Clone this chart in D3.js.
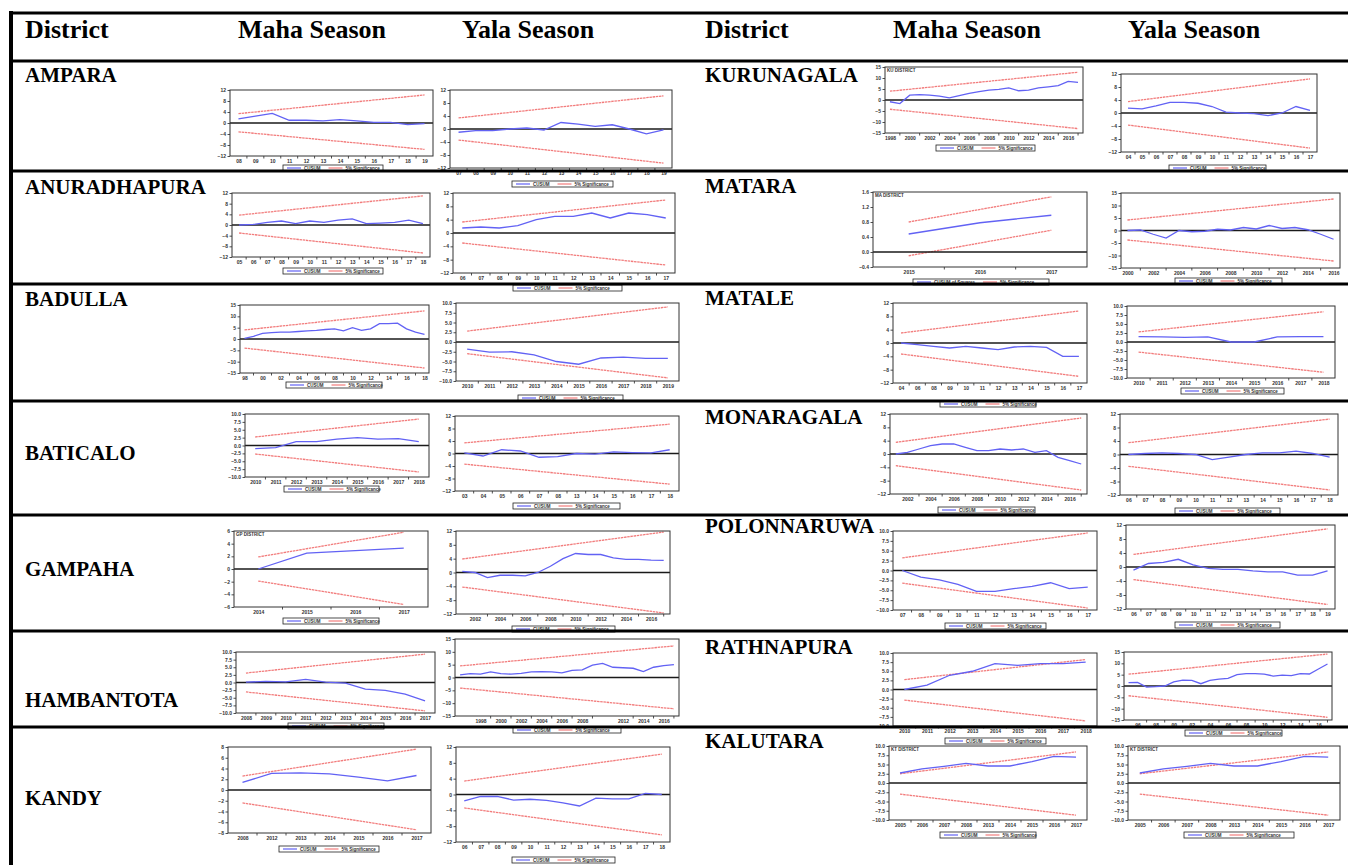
<!DOCTYPE html>
<html>
<head>
<meta charset="utf-8">
<script src="https://cdn.jsdelivr.net/npm/d3@7/dist/d3.min.js"></script>
<style>
  body { margin: 0; background: #fff; }
  .ax text { font-family: Arial, "Liberation Sans", sans-serif; font-size: 5px; font-weight: bold; fill: #333; }
  .ax path { display: none; }
  .ax line { stroke: #222; stroke-width: 0.8; }
  .lg text { font-family: Arial, "Liberation Sans", sans-serif; font-size: 4.5px; font-weight: bold; fill: #333; }
</style>
</head>
<body>
<svg id="chart" width="1348" height="865"></svg>
<script>
// table text
var headers = ["District", "Maha Season", "Yala Season"];
var leftDistricts = ["AMPARA", "ANURADHAPURA", "BADULLA", "BATICALO", "GAMPAHA", "HAMBANTOTA", "KANDY"];
var rightDistricts = ["KURUNAGALA", "MATARA", "MATALE", "MONARAGALA", "POLONNARUWA", "RATHNAPURA", "KALUTARA"];

// y tick sets used by the EViews graphs
var ticks12 = [-12, -8, -4, 0, 4, 8, 12];
var ticks15 = [-15, -10, -5, 0, 5, 10, 15];
var ticks10 = [-10, -7.5, -5, -2.5, 0, 2.5, 5, 7.5, 10];
var ticks8 = [-8, -6, -4, -2, 0, 2, 4, 6, 8];
var ticks6 = [-6, -4, -2, 0, 2, 4, 6];
var ticksSq = [-0.4, 0, 0.4, 0.8, 1.2, 1.6];

// significance arrays: [upper start, upper end, lower start, lower end]
var amparaMahaYears = ["08", "09", "10", "11", "12", "13", "14", "15", "16", "17", "18", "19"];
var amparaMahaCusum = [1.5, 2.5, 3.5, 1, 1, 0.8, 1.2, 0.8, 0.2, 0.2, -0.6, -0.2];
var amparaMahaSig = [3.4, 10.2, -3.2, -9.6];

var amparaYalaYears = ["07", "08", "09", "10", "11", "12", "13", "14", "15", "16", "17", "18", "19"];
var amparaYalaCusum = [-1, -0.5, -0.5, 0, 0.3, -0.3, 2, 1.5, 0.8, 1.3, 0, -1.5, -0.3];
var amparaYalaSig = [3.4, 10.2, -3.4, -10.5];

var kurunagalaMahaYears = ["1998", "1999", "2000", "2001", "2002", "2003", "2004", "2005", "2006", "2007", "2008", "2009", "2010", "2011", "2012", "2013", "2014", "2015", "2016", "2017"];
var kurunagalaMahaLabels = ["1998", "2000", "2002", "2004", "2006", "2008", "2010", "2012", "2014", "2016"];
var kurunagalaMahaCusum = [-0.8, -1.6, 2.2, 2.4, 2.2, 1.8, 1.0, 2.0, 3.0, 3.8, 4.5, 4.8, 5.5, 4.2, 4.5, 5.5, 6.0, 6.5, 8.5, 8.0];
var kurunagalaMahaSig = [4, 12.6, -4.2, -13];

var kurunagalaYalaYears = ["04", "05", "06", "07", "08", "09", "10", "11", "12", "13", "14", "15", "16", "17"];
var kurunagalaYalaCusum = [1.5, 1.3, 2.2, 3.3, 3.3, 3, 2, 0.3, 0, -0.2, -0.8, 0, 2, 0.8];
var kurunagalaYalaSig = [3.5, 10.5, -3.7, -10.8];

var anuradhapuraMahaYears = ["05", "06", "07", "08", "09", "10", "11", "12", "13", "14", "15", "16", "17", "18"];
var anuradhapuraMahaCusum = [0, 0.2, 1, 1.5, 0.5, 1.5, 1, 1.8, 2.3, 0.5, 0.7, 1, 1.8, 0.5];
var anuradhapuraMahaSig = [3.7, 10.9, -3, -10.5];

var anuradhapuraYalaYears = ["06", "07", "08", "09", "10", "11", "12", "13", "14", "15", "16", "17"];
var anuradhapuraYalaCusum = [1.5, 1.8, 1.5, 2.2, 4, 5, 5, 6, 4.5, 6, 5.5, 4.5];
var anuradhapuraYalaSig = [3.3, 9.9, -3, -9.6];

var mataraMahaYears = ["2015", "2016", "2017"];
var mataraMahaCusum = [0.48, 0.78, 0.98];
var mataraMahaSig = [0.8, 1.47, -0.1, 0.58];

var mataraYalaYears = ["2000", "2001", "2002", "2003", "2004", "2005", "2006", "2007", "2008", "2009", "2010", "2011", "2012", "2013", "2014", "2015", "2016"];
var mataraYalaLabels = ["2000", "2002", "2004", "2006", "2008", "2010", "2012", "2014", "2016"];
var mataraYalaCusum = [0, 0.2, -1.5, -3, 0, -0.5, -0.3, 0.5, 0.2, 1.2, 0.6, 2, 0.8, 1.2, 0.3, -1.5, -3.5];
var mataraYalaSig = [4.2, 12.6, -3.8, -12.2];

var badullaMahaYears = ["98", "99", "00", "01", "02", "03", "04", "05", "06", "07", "08", "09", "10", "11", "12", "13", "14", "15", "16", "17", "18"];
var badullaMahaLabels = ["98", "00", "02", "04", "06", "08", "10", "12", "14", "16", "18"];
var badullaMahaCusum = [0.3, 1.2, 2.5, 2.8, 3, 3, 3.3, 3.6, 3.8, 4.2, 4.5, 3.6, 5, 3.8, 4.5, 6.8, 6.8, 7, 4.5, 3, 2];
var badullaMahaSig = [4, 12.4, -4, -12.8];

var badullaYalaYears = ["2010", "2011", "2012", "2013", "2014", "2015", "2016", "2017", "2018", "2019"];
var badullaYalaCusum = [-1.8, -2.6, -2.5, -3.3, -5, -5.7, -4.1, -3.9, -4.2, -4.2];
var badullaYalaSig = [2.8, 9, -3, -9.2];

var mataleMahaYears = ["04", "06", "08", "09", "10", "11", "12", "13", "14", "15", "16", "17"];
var mataleMahaCusum = [0, -0.5, -1, -1.5, -1, -1.5, -2, -1.2, -1, -1.3, -4, -4];
var mataleMahaSig = [3, 9.6, -3.3, -10];

var mataleYalaYears = ["2010", "2011", "2012", "2013", "2014", "2015", "2016", "2017", "2018"];
var mataleYalaCusum = [1.5, 1.4, 1.3, 1.4, 0, 0, 1.4, 1.5, 1.5];
var mataleYalaSig = [2.8, 8.4, -2.8, -8.4];

var baticaloMahaYears = ["2010", "2011", "2012", "2013", "2014", "2015", "2016", "2017", "2018"];
var baticaloMahaCusum = [-1, -0.7, 1.2, 1.2, 2, 2.5, 2, 2.2, 1.2];
var baticaloMahaSig = [2.7, 8.4, -2.7, -8.4];

var baticaloYalaYears = ["03", "04", "05", "06", "07", "08", "13", "14", "15", "16", "17", "18"];
var baticaloYalaCusum = [0.2, -0.8, 1.2, 0.8, -1.2, -1, 0, -0.2, 0.5, 0.3, 0.2, 1.2];
var baticaloYalaSig = [3.4, 9.4, -3.4, -9.8];

var monaragalaMahaYears = ["2001", "2002", "2003", "2004", "2005", "2006", "2007", "2008", "2009", "2010", "2011", "2012", "2013", "2014", "2015", "2016", "2017"];
var monaragalaMahaLabels = ["2002", "2004", "2006", "2008", "2010", "2012", "2014", "2016"];
var monaragalaMahaCusum = [0, 0.5, 1.5, 2.5, 3, 3, 2, 1, 1, 1.5, 1.2, 1.5, 0.5, 1, -1, -2, -3];
var monaragalaMahaSig = [3.5, 10.8, -3.5, -10.8];

var monaragalaYalaYears = ["06", "07", "08", "09", "10", "11", "12", "13", "14", "15", "16", "17", "18"];
var monaragalaYalaCusum = [0, 0.3, 0.5, 0.3, 0, -1.5, -0.8, 0, 0.5, 0.5, 1, 0.3, -0.8];
var monaragalaYalaSig = [3.5, 10.5, -3.5, -10.5];

var gampahaMahaYears = ["2014", "2015", "2016", "2017"];
var gampahaMahaCusum = [0, 2.5, 2.9, 3.3];
var gampahaMahaSig = [1.9, 5.8, -1.9, -5.6];

var gampahaYalaYears = ["2001", "2002", "2003", "2004", "2005", "2006", "2007", "2008", "2009", "2010", "2011", "2012", "2013", "2014", "2015", "2016", "2017"];
var gampahaYalaLabels = ["2002", "2004", "2006", "2008", "2010", "2012", "2014", "2016"];
var gampahaYalaCusum = [0.3, 0, -1.5, -0.8, -0.8, -1.0, 0, 1.8, 4, 5.5, 5.2, 5.2, 4.2, 3.8, 3.8, 3.6, 3.5];
var gampahaYalaSig = [3.9, 11.7, -4.2, -11.7];

var polonnaruwaMahaYears = ["07", "08", "09", "10", "11", "12", "13", "14", "15", "16", "17"];
var polonnaruwaMahaCusum = [0, -1.7, -2.4, -3.5, -5.3, -5.3, -4.6, -4, -3.1, -4.6, -4.2];
var polonnaruwaMahaSig = [3.2, 9.5, -3.2, -9.5];

var polonnaruwaYalaYears = ["06", "07", "08", "09", "10", "11", "12", "13", "14", "15", "16", "17", "18", "19"];
var polonnaruwaYalaCusum = [-0.9, 1, 1.3, 2.2, 0.6, -0.4, -0.7, -0.7, -1.1, -1.4, -1.4, -2.3, -2.3, -1.1];
var polonnaruwaYalaSig = [3.6, 10.9, -3.6, -10.7];

var hambantotaMahaYears = ["2008", "2009", "2010", "2011", "2012", "2013", "2014", "2015", "2016", "2017"];
var hambantotaMahaCusum = [0.1, 0.4, 0.2, 1.0, 0.1, -0.2, -2.2, -2.6, -3.8, -6];
var hambantotaMahaSig = [3.1, 9.3, -3.1, -9.3];

var hambantotaYalaYears = ["1996", "1997", "1998", "1999", "2000", "2001", "2002", "2003", "2004", "2005", "2006", "2007", "2008", "2009", "2010", "2011", "2012", "2013", "2014", "2015", "2016", "2017"];
var hambantotaYalaLabels = ["1998", "2000", "2002", "2004", "2006", "2008", "2012", "2014", "2016"];
var hambantotaYalaCusum = [1.0, 1.5, 1.3, 2.2, 1.5, 1.3, 1.6, 2.2, 2.3, 2.2, 1.8, 2.8, 3.0, 4.8, 5.5, 4.0, 3.8, 3.6, 2.3, 4.0, 4.6, 5.0];
var hambantotaYalaSig = [4.5, 12.3, -4.1, -12.2];

var rathnapuraMahaYears = ["2010", "2011", "2012", "2013", "2014", "2015", "2016", "2017", "2018"];
var rathnapuraMahaCusum = [0, 1.2, 3.9, 5, 7.1, 6.6, 7.1, 7.1, 7.5];
var rathnapuraMahaSig = [2.7, 8.2, -2.9, -8.6];

var rathnapuraYalaYears = ["95", "96", "97", "98", "99", "00", "01", "02", "03", "04", "05", "06", "07", "08", "09", "10", "11", "12", "13", "14", "15", "16", "17"];
var rathnapuraYalaLabels = ["96", "98", "00", "02", "04", "06", "08", "10", "12", "14", "16"];
var rathnapuraYalaCusum = [1.5, 1.6, -0.5, -0.3, 0, 1.8, 2.6, 2.5, 1.0, 2.5, 3.0, 3.4, 5.0, 5.5, 5.5, 5.2, 4.4, 4.8, 4.6, 5.5, 5.3, 7.5, 9.7];
var rathnapuraYalaSig = [5.2, 14.1, -4.3, -13.8];

var kandyMahaYears = ["2008", "2012", "2013", "2014", "2015", "2016", "2017"];
var kandyMahaCusum = [1.4, 3.1, 3.2, 3.0, 2.4, 1.7, 2.7];
var kandyMahaSig = [2.6, 7.6, -2.4, -7.4];

var kandyYalaYears = ["06", "07", "08", "09", "10", "11", "12", "13", "14", "15", "16", "17", "18"];
var kandyYalaCusum = [-1.6, -0.5, -0.5, -1.4, -1.2, -1.5, -2.1, -2.9, -0.9, -1.1, -1.1, 0.3, 0];
var kandyYalaSig = [3.4, 10.2, -3.4, -10.2];

var kalutaraMahaYears = ["2005", "2006", "2007", "2008", "2013", "2014", "2015", "2016", "2017"];
var kalutaraMahaCusum = [2.7, 3.8, 4.5, 5.3, 4.6, 4.6, 5.8, 7.2, 7.0];
var kalutaraMahaSig = [2.5, 8.4, -3.0, -8.7];

var kalutaraYalaYears = ["2005", "2006", "2007", "2008", "2013", "2014", "2015", "2016", "2017"];
var kalutaraYalaCusum = [2.7, 3.8, 4.5, 5.3, 4.6, 4.6, 5.8, 7.2, 7.0];
var kalutaraYalaSig = [2.5, 8.4, -3.0, -8.7];

// chart specs built from the arrays above
var charts = [
  {id: "amparaMaha", years: amparaMahaYears, cusum: amparaMahaCusum, sig: amparaMahaSig, ticks: ticks12},
  {id: "amparaYala", years: amparaYalaYears, cusum: amparaYalaCusum, sig: amparaYalaSig, ticks: ticks12},
  {id: "kurunagalaMaha", years: kurunagalaMahaYears, labels: kurunagalaMahaLabels, cusum: kurunagalaMahaCusum, sig: kurunagalaMahaSig, ticks: ticks15, title: "KU DISTRICT"},
  {id: "kurunagalaYala", years: kurunagalaYalaYears, cusum: kurunagalaYalaCusum, sig: kurunagalaYalaSig, ticks: ticks12},
  {id: "anuradhapuraMaha", years: anuradhapuraMahaYears, cusum: anuradhapuraMahaCusum, sig: anuradhapuraMahaSig, ticks: ticks12},
  {id: "anuradhapuraYala", years: anuradhapuraYalaYears, cusum: anuradhapuraYalaCusum, sig: anuradhapuraYalaSig, ticks: ticks12},
  {id: "mataraMaha", years: mataraMahaYears, cusum: mataraMahaCusum, sig: mataraMahaSig, ticks: ticksSq, title: "MA DISTRICT", legend: "CUSUM of Squares"},
  {id: "mataraYala", years: mataraYalaYears, labels: mataraYalaLabels, cusum: mataraYalaCusum, sig: mataraYalaSig, ticks: ticks15},
  {id: "badullaMaha", years: badullaMahaYears, labels: badullaMahaLabels, cusum: badullaMahaCusum, sig: badullaMahaSig, ticks: ticks15},
  {id: "badullaYala", years: badullaYalaYears, cusum: badullaYalaCusum, sig: badullaYalaSig, ticks: ticks10},
  {id: "mataleMaha", years: mataleMahaYears, cusum: mataleMahaCusum, sig: mataleMahaSig, ticks: ticks12},
  {id: "mataleYala", years: mataleYalaYears, cusum: mataleYalaCusum, sig: mataleYalaSig, ticks: ticks10},
  {id: "baticaloMaha", years: baticaloMahaYears, cusum: baticaloMahaCusum, sig: baticaloMahaSig, ticks: ticks10},
  {id: "baticaloYala", years: baticaloYalaYears, cusum: baticaloYalaCusum, sig: baticaloYalaSig, ticks: ticks12},
  {id: "monaragalaMaha", years: monaragalaMahaYears, labels: monaragalaMahaLabels, cusum: monaragalaMahaCusum, sig: monaragalaMahaSig, ticks: ticks12},
  {id: "monaragalaYala", years: monaragalaYalaYears, cusum: monaragalaYalaCusum, sig: monaragalaYalaSig, ticks: ticks12},
  {id: "gampahaMaha", years: gampahaMahaYears, cusum: gampahaMahaCusum, sig: gampahaMahaSig, ticks: ticks6, title: "GP DISTRICT"},
  {id: "gampahaYala", years: gampahaYalaYears, labels: gampahaYalaLabels, cusum: gampahaYalaCusum, sig: gampahaYalaSig, ticks: ticks12},
  {id: "polonnaruwaMaha", years: polonnaruwaMahaYears, cusum: polonnaruwaMahaCusum, sig: polonnaruwaMahaSig, ticks: ticks10},
  {id: "polonnaruwaYala", years: polonnaruwaYalaYears, cusum: polonnaruwaYalaCusum, sig: polonnaruwaYalaSig, ticks: ticks12},
  {id: "hambantotaMaha", years: hambantotaMahaYears, cusum: hambantotaMahaCusum, sig: hambantotaMahaSig, ticks: ticks10},
  {id: "hambantotaYala", years: hambantotaYalaYears, labels: hambantotaYalaLabels, cusum: hambantotaYalaCusum, sig: hambantotaYalaSig, ticks: ticks15},
  {id: "rathnapuraMaha", years: rathnapuraMahaYears, cusum: rathnapuraMahaCusum, sig: rathnapuraMahaSig, ticks: ticks10},
  {id: "rathnapuraYala", years: rathnapuraYalaYears, labels: rathnapuraYalaLabels, cusum: rathnapuraYalaCusum, sig: rathnapuraYalaSig, ticks: ticks15},
  {id: "kandyMaha", years: kandyMahaYears, cusum: kandyMahaCusum, sig: kandyMahaSig, ticks: ticks8},
  {id: "kandyYala", years: kandyYalaYears, cusum: kandyYalaCusum, sig: kandyYalaSig, ticks: ticks12},
  {id: "kalutaraMaha", years: kalutaraMahaYears, cusum: kalutaraMahaCusum, sig: kalutaraMahaSig, ticks: ticks10, title: "KT DISTRICT"},
  {id: "kalutaraYala", years: kalutaraYalaYears, cusum: kalutaraYalaCusum, sig: kalutaraYalaSig, ticks: ticks10, title: "KT DISTRICT"}
];

// where each graph sits on the page: plot box x, y, w, h then legend x, y, w
var layout = {
  amparaMaha:       [230, 90, 203, 66, 283, 165, 100],
  amparaYala:       [450, 90, 222, 78, 512, 181, 101],
  kurunagalaMaha:   [885, 67, 198, 66, 936, 145, 99],
  kurunagalaYala:   [1121, 74, 196, 78, 1169, 165, 97],
  anuradhapuraMaha: [232, 193, 198, 64, 283, 268, 100],
  anuradhapuraYala: [453, 193, 222, 80, 513, 285, 109],
  mataraMaha:       [873, 192, 214, 75, 913, 279, 136],
  mataraYala:       [1121, 193, 219, 75, 1175, 278, 107],
  badullaMaha:      [240, 305, 189, 68, 286, 382, 96],
  badullaYala:      [456, 303, 223, 78, 518, 395, 105],
  mataleMaha:       [893, 303, 194, 80, 940, 401, 96],
  mataleYala:       [1127, 306, 208, 72, 1181, 388, 103],
  baticaloMaha:     [245, 414, 184, 63, 284, 486, 95],
  baticaloYala:     [455, 416, 224, 75, 513, 503, 107],
  monaragalaMaha:   [890, 414, 197, 80, 938, 507, 97],
  monaragalaYala:   [1120, 414, 218, 81, 1175, 508, 105],
  gampahaMaha:      [234, 531, 194, 76, 283, 618, 96],
  gampahaYala:      [456, 531, 214, 83, 512, 626, 103],
  polonnaruwaMaha:  [893, 531, 204, 79, 945, 623, 101],
  polonnaruwaYala:  [1126, 525, 209, 84, 1175, 622, 105],
  hambantotaMaha:   [236, 652, 199, 61, 288, 723, 96],
  hambantotaYala:   [455, 639, 224, 77, 513, 727, 108],
  rathnapuraMaha:   [893, 653, 204, 73, 945, 738, 101],
  rathnapuraYala:   [1124, 652, 208, 68, 1185, 730, 97],
  kandyMaha:        [228, 747, 203, 86, 279, 846, 100],
  kandyYala:        [456, 747, 214, 95, 512, 857, 103],
  kalutaraMaha:     [889, 746, 198, 74, 940, 832, 96],
  kalutaraYala:     [1128, 746, 212, 74, 1184, 832, 110]
};

var blue = "#6262f4";
var red = "#f27c7c";

var svg = d3.select("#chart");
svg.append("rect").attr("width", 1348).attr("height", 865).attr("fill", "#fff");

charts.forEach(function(c) { cusumChart(c, layout[c.id]); });

function cusumChart(c, b) {
  var labels = c.labels || c.years;
  var x = d3.scalePoint().domain(c.years).range([b[0], b[0] + b[2]]).padding(0.5);
  var y = d3.scaleLinear().domain(d3.extent(c.ticks)).range([b[1] + b[3], b[1]]);
  var fmt = c.ticks.some(function(t) { return t % 1 !== 0; }) ? d3.format(".1f") : d3.format("d");
  var g = svg.append("g");

  g.append("rect")
    .attr("x", b[0]).attr("y", b[1]).attr("width", b[2]).attr("height", b[3])
    .attr("fill", "#fff");

  g.append("g")
    .attr("class", "ax")
    .attr("transform", "translate(" + b[0] + ",0)")
    .call(d3.axisLeft(y).tickValues(c.ticks).tickSize(2.5).tickPadding(1.5).tickFormat(fmt));

  g.append("g")
    .attr("class", "ax")
    .attr("transform", "translate(0," + (b[1] + b[3]) + ")")
    .call(d3.axisBottom(x).tickValues(labels).tickSize(0).tickPadding(3.5));

  // EViews puts the x tick marks between the labels
  var lstep = labels.length > 1 ? x(labels[1]) - x(labels[0]) : b[2];
  var marks = labels.map(function(l) { return x(l) + lstep / 2; })
    .filter(function(m) { return m < b[0] + b[2] - 1; });
  g.selectAll(".xm")
    .data(marks)
    .enter().append("line")
      .attr("x1", function(d) { return d; }).attr("x2", function(d) { return d; })
      .attr("y1", b[1] + b[3]).attr("y2", b[1] + b[3] + 2.5)
      .attr("stroke", "#222").attr("stroke-width", 0.8);

  var first = c.years[0], last = c.years[c.years.length - 1];
  var edge = d3.line()
    .x(function(d) { return x(d[0]); })
    .y(function(d) { return y(d[1]); });
  [[[first, c.sig[0]], [last, c.sig[1]]], [[first, c.sig[2]], [last, c.sig[3]]]].forEach(function(seg) {
    g.append("path")
      .attr("d", edge(seg))
      .attr("fill", "none")
      .attr("stroke", red)
      .attr("stroke-width", 1.3)
      .attr("stroke-dasharray", "2.5,0.7");
  });

  g.append("line")
    .attr("x1", b[0]).attr("x2", b[0] + b[2])
    .attr("y1", y(0)).attr("y2", y(0))
    .attr("stroke", "#1a1a1a").attr("stroke-width", 1.4);

  var line = d3.line()
    .x(function(d, i) { return x(c.years[i]); })
    .y(function(d) { return y(d); });
  g.append("path")
    .datum(c.cusum)
    .attr("d", line)
    .attr("fill", "none")
    .attr("stroke", blue)
    .attr("stroke-width", 1.3);

  g.append("rect")
    .attr("x", b[0]).attr("y", b[1]).attr("width", b[2]).attr("height", b[3])
    .attr("fill", "none").attr("stroke", "#333").attr("stroke-width", 1);

  if (c.title) {
    g.append("text")
      .attr("x", b[0] + 2).attr("y", b[1] + 5)
      .style("font-family", "Arial, sans-serif").style("font-size", "4.5px").style("font-weight", "bold")
      .style("fill", "#333")
      .text(c.title);
  }

  // legend under the graph
  var lg = svg.append("g").attr("class", "lg").attr("transform", "translate(" + b[4] + "," + b[5] + ")");
  lg.append("rect")
    .attr("width", b[6]).attr("height", 6)
    .attr("fill", "#fff").attr("stroke", "#222").attr("stroke-width", 0.8);
  lg.append("line")
    .attr("x1", 4).attr("x2", 18).attr("y1", 3).attr("y2", 3)
    .attr("stroke", blue).attr("stroke-width", 1.2);
  var t1 = lg.append("text").attr("x", 21).attr("y", 4.7).text(c.legend || "CUSUM");
  var rx = 21 + t1.node().getComputedTextLength() + 8;
  lg.append("line")
    .attr("x1", rx).attr("x2", rx + 14).attr("y1", 3).attr("y2", 3)
    .attr("stroke", red).attr("stroke-width", 1.2);
  lg.append("text").attr("x", rx + 17).attr("y", 4.7).text("5% Significance");
}

// table rules and text
var rowLines = [61, 171, 284, 401, 515, 631, 727];
svg.append("line")
  .attr("x1", 9).attr("x2", 1348).attr("y1", 13).attr("y2", 13)
  .attr("stroke", "#000").attr("stroke-width", 3);
svg.selectAll(".rule")
  .data(rowLines)
  .enter().append("line")
    .attr("x1", 9).attr("x2", 1348)
    .attr("y1", function(d) { return d; }).attr("y2", function(d) { return d; })
    .attr("stroke", "#000").attr("stroke-width", 3);
svg.append("line")
  .attr("x1", 11).attr("x2", 11).attr("y1", 11).attr("y2", 865)
  .attr("stroke", "#000").attr("stroke-width", 4);

var headX = [25, 238, 462, 705, 893, 1128];
headX.forEach(function(hx, i) {
  svg.append("text")
    .attr("x", hx).attr("y", 38)
    .style("font-family", "'Liberation Serif', 'Times New Roman', serif")
    .style("font-size", "26px").style("font-weight", "bold")
    .text(headers[i % 3]);
});

var leftBase = [82, 194, 306, 460, 576, 707, 805];
var rightBase = [82, 193, 305, 424, 533, 654, 748];
function districtText(names, xPos, bases) {
  svg.selectAll(null)
    .data(names)
    .enter().append("text")
      .attr("x", xPos)
      .attr("y", function(d, i) { return bases[i]; })
      .style("font-family", "'Liberation Serif', 'Times New Roman', serif")
      .style("font-size", "21px").style("font-weight", "bold")
      .text(function(d) { return d; });
}
districtText(leftDistricts, 25, leftBase);
districtText(rightDistricts, 705, rightBase);
</script>
</body>
</html>
